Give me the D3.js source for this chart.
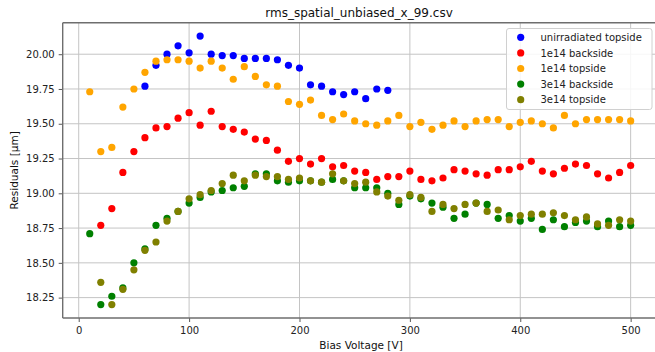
<!DOCTYPE html>
<html>
<head>
<meta charset="utf-8">
<script src="https://cdn.jsdelivr.net/npm/d3@7"></script>
<style>
  html, body { margin: 0; padding: 0; background: #fff; }
  svg { display: block; font-family: "DejaVu Sans", sans-serif; }
</style>
</head>
<body>
<svg id="chart" width="655" height="352"></svg>
<script>
// Bias voltage steps (V)
const voltsUnirr = [60, 70, 80, 90, 100, 110, 120, 130, 140, 150, 160, 170, 180, 190, 200, 210, 220, 230, 240, 250, 260, 270, 280];
const voltsFrom10 = d3.range(10, 501, 10);
const voltsFrom20 = d3.range(20, 501, 10);

// Residuals (µm) per sample
const unirrTop = [19.77, 19.92, 20.00, 20.06, 20.01, 20.13, 20.00, 19.99, 19.99, 19.97, 19.97, 19.97, 19.96, 19.92, 19.90, 19.78, 19.77, 19.73, 19.71, 19.73, 19.68, 19.75, 19.74];
const back1e14 = [18.77, 18.89, 19.15, 19.30, 19.40, 19.47, 19.48, 19.54, 19.58, 19.49, 19.59, 19.48, 19.46, 19.44, 19.39, 19.38, 19.31, 19.23, 19.25, 19.21, 19.25, 19.19, 19.20, 19.16, 19.15, 19.10, 19.12, 19.12, 19.16, 19.10, 19.09, 19.11, 19.17, 19.16, 19.14, 19.13, 19.17, 19.17, 19.19, 19.23, 19.16, 19.14, 19.18, 19.21, 19.20, 19.14, 19.11, 19.15, 19.20];
const top1e14 = [19.73, 19.30, 19.33, 19.62, 19.75, 19.87, 19.95, 19.96, 19.96, 19.95, 19.90, 19.95, 19.90, 19.82, 19.91, 19.84, 19.78, 19.77, 19.66, 19.64, 19.67, 19.56, 19.53, 19.57, 19.52, 19.50, 19.49, 19.52, 19.56, 19.48, 19.51, 19.46, 19.49, 19.52, 19.48, 19.52, 19.53, 19.53, 19.48, 19.51, 19.52, 19.50, 19.47, 19.56, 19.50, 19.53, 19.53, 19.53, 19.53, 19.52];
const back3e14 = [18.71, 18.20, 18.26, 18.32, 18.50, 18.60, 18.77, 18.82, 18.87, 18.93, 18.97, 19.01, 19.02, 19.04, 19.05, 19.14, 19.14, 19.09, 19.08, 19.09, 19.09, 19.08, 19.10, 19.09, 19.04, 19.04, 19.04, 19.00, 18.92, 18.98, 18.96, 18.93, 18.90, 18.82, 18.85, 18.93, 18.92, 18.82, 18.84, 18.80, 18.82, 18.74, 18.81, 18.76, 18.79, 18.80, 18.76, 18.80, 18.76, 18.77];
const top3e14 = [18.36, 18.20, 18.31, 18.45, 18.59, 18.65, 18.80, 18.87, 18.96, 18.99, 19.02, 19.07, 19.13, 19.09, 19.13, 19.12, 19.12, 19.10, 19.11, 19.09, 19.08, 19.14, 19.09, 19.07, 19.08, 19.01, 18.98, 18.95, 18.99, 18.97, 18.87, 18.92, 18.89, 18.92, 18.93, 18.87, 18.88, 18.81, 18.84, 18.85, 18.85, 18.86, 18.84, 18.81, 18.83, 18.78, 18.77, 18.81, 18.80];

const seriesNames = ["unirradiated topside", "1e14 backside", "1e14 topside", "3e14 backside", "3e14 topside"];
const seriesColors = ["blue", "red", "orange", "green", "olive"];
const seriesX = [voltsUnirr, voltsFrom20, voltsFrom10, voltsFrom10, voltsFrom20];
const seriesY = [unirrTop, back1e14, top1e14, back3e14, top3e14];

const xTicks = [0, 100, 200, 300, 400, 500];
const yTicks = [18.25, 18.50, 18.75, 19.00, 19.25, 19.50, 19.75, 20.00];

const svg = d3.select("#chart");
const plot = { left: 62.7, right: 657.7, top: 22.7, bottom: 318 };

const x = d3.scaleLinear().domain([-14.5, 524.5]).range([plot.left, plot.right]);
const y = d3.scaleLinear().domain([18.1035, 20.2265]).range([plot.bottom, plot.top]);

svg.append("defs").append("clipPath").attr("id", "plotclip")
  .append("rect")
  .attr("x", plot.left).attr("y", plot.top)
  .attr("width", plot.right - plot.left).attr("height", plot.bottom - plot.top);

// Grid
const grid = svg.append("g");
grid.selectAll("line.gx").data(xTicks).join("line")
  .attr("x1", d => x(d)).attr("x2", d => x(d))
  .attr("y1", plot.top).attr("y2", plot.bottom)
  .attr("stroke", "#c4c4c4").attr("stroke-width", 1);
grid.selectAll("line.gy").data(yTicks).join("line")
  .attr("x1", plot.left).attr("x2", plot.right)
  .attr("y1", d => y(d)).attr("y2", d => y(d))
  .attr("stroke", "#c4c4c4").attr("stroke-width", 1);

// Scatter series
const marks = svg.append("g").attr("clip-path", "url(#plotclip)");
seriesNames.forEach((name, i) => {
  const pts = seriesX[i].map((v, j) => [v, seriesY[i][j]]).filter(p => p[1] !== undefined);
  marks.append("g").selectAll("circle").data(pts).join("circle")
    .attr("cx", d => x(d[0])).attr("cy", d => y(d[1]))
    .attr("r", 3.6)
    .attr("fill", seriesColors[i]);
});

// Axes
const xAxis = d3.axisBottom(x).tickValues(xTicks).tickFormat(d3.format("d")).tickSizeOuter(0).tickSize(4).tickPadding(5);
const yAxis = d3.axisLeft(y).tickValues(yTicks).tickFormat(d3.format(".2f")).tickSizeOuter(0).tickSize(4).tickPadding(4);

const gx = svg.append("g").attr("transform", `translate(0,${plot.bottom})`).call(xAxis);
const gy = svg.append("g").attr("transform", `translate(${plot.left},0)`).call(yAxis);
[gx, gy].forEach(g => {
  g.select(".domain").remove();
  g.selectAll(".tick line").attr("stroke", "#444").attr("stroke-width", 0.9);
  g.selectAll(".tick text").attr("fill", "#222").style("font-size", "10px").style("font-family", "DejaVu Sans, sans-serif");
});

// Frame
const frameColor = "#6e6e6e";
svg.append("line").attr("x1", plot.left).attr("x2", plot.left).attr("y1", plot.top).attr("y2", plot.bottom)
  .attr("stroke", frameColor).attr("stroke-width", 1.4);
svg.append("line").attr("x1", plot.left).attr("x2", plot.right).attr("y1", plot.bottom).attr("y2", plot.bottom)
  .attr("stroke", frameColor).attr("stroke-width", 1.4);
svg.append("line").attr("x1", plot.left).attr("x2", plot.right).attr("y1", plot.top).attr("y2", plot.top)
  .attr("stroke", frameColor).attr("stroke-width", 1.4);

// Titles
svg.append("text").attr("x", 359).attr("y", 17).attr("text-anchor", "middle")
  .style("font-size", "12px").attr("fill", "#111").text("rms_spatial_unbiased_x_99.csv");
svg.append("text").attr("x", 361).attr("y", 349).attr("text-anchor", "middle")
  .style("font-size", "10.5px").attr("fill", "#111").text("Bias Voltage [V]");
svg.append("text").attr("transform", `translate(18,${(plot.top + plot.bottom) / 2}) rotate(-90)`)
  .attr("text-anchor", "middle").style("font-size", "10.5px").attr("fill", "#111").text("Residuals [μm]");

// Legend
const legend = svg.append("g");
legend.append("rect").attr("x", 506.5).attr("y", 28.5).attr("width", 145.5).attr("height", 81)
  .attr("rx", 2.5).attr("fill", "#fff").attr("fill-opacity", 0.85)
  .attr("stroke", "#d0d0d0").attr("stroke-width", 1);
seriesNames.forEach((name, i) => {
  const cy = 37.3 + i * 15.6;
  legend.append("circle").attr("cx", 520.7).attr("cy", cy).attr("r", 3.6).attr("fill", seriesColors[i]);
  legend.append("text").attr("x", 540.5).attr("y", cy + 3.6)
    .style("font-size", "10px").attr("fill", "#222").text(name);
});
</script>
</body>
</html>
